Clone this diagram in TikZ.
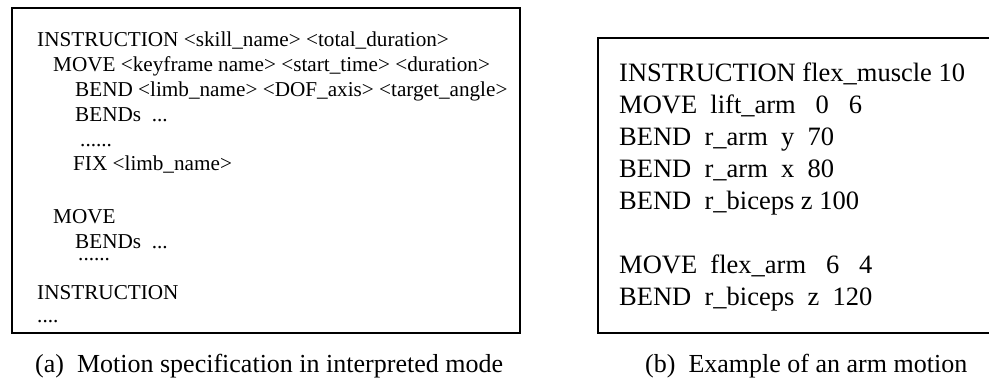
\documentclass[tikz,border=0pt]{standalone}
\usepackage{fontspec}
\setmainfont{Liberation Serif}
\begin{document}
\begin{tikzpicture}[x=1pt,y=1pt,
  spec/.style={anchor=base west,inner sep=0pt,font=\fontsize{21.2}{24}\selectfont},
  example/.style={anchor=base west,inner sep=0pt,font=\fontsize{26.5}{32}\selectfont},
  caption/.style={anchor=base west,inner sep=0pt,font=\fontsize{26}{30}\selectfont},
  frame/.style={draw=black,line width=2pt}]
\useasboundingbox (0,0) rectangle (989,-383);

% left panel: generic motion specification
\draw[frame] (12,-333) -- (12,-8) -- (520,-8) -- (520,-333) -- cycle;
\node[spec] (ins)   at (37,-46)  {INSTRUCTION <skill\_name> <total\_duration>};
\node[spec] (mv)    at (53,-71)  {MOVE <keyframe name> <start\_time> <duration>};
\node[spec] (bd)    at (75,-96)  {BEND <limb\_name> <DOF\_axis> <target\_angle>};
\node[spec] (bds)   at (75,-121) {BENDs~ ...};
\node[spec] (dtsa)  at (80,-146) {......};
\node[spec] (fix)   at (73,-170) {FIX <limb\_name>};
\node[spec] (mvb)   at (53,-223) {MOVE};
\node[spec] (bdsb)  at (75,-248) {BENDs~ ...};
\node[spec] (dtsb)  at (78,-260) {......};
\node[spec] (insb)  at (37,-299) {INSTRUCTION};
\node[spec] (dtsc)  at (37,-322) {....};
\node[caption] (capa) at (35,-372) {(a)~ Motion specification in interpreted mode};

% right panel: arm motion example (frame runs past the right edge)
\coordinate (rt) at (989,-38);
\coordinate (rb) at (989,-333);
\draw[frame,line width=2.4pt] (rt) -- (598,-38) -- (598,-333) -- (rb);
\node[example] (e1) at (619,-81)  {INSTRUCTION flex\_muscle 10};
\node[example] (e2) at (619,-113) {MOVE~ lift\_arm~~ 0~~ 6};
\node[example] (e3) at (619,-145) {BEND~ r\_arm~ y~ 70};
\node[example] (e4) at (619,-177) {BEND~ r\_arm~ x~ 80};
\node[example] (e5) at (619,-209) {BEND~ r\_biceps z 100};
\node[example] (e6) at (619,-273) {MOVE~ flex\_arm~~ 6~~ 4};
\node[example] (e7) at (619,-305) {BEND~ r\_biceps~ z~ 120};
\node[caption] (capb) at (645,-372) {(b)~ Example of an arm motion};
\end{tikzpicture}
\end{document}
